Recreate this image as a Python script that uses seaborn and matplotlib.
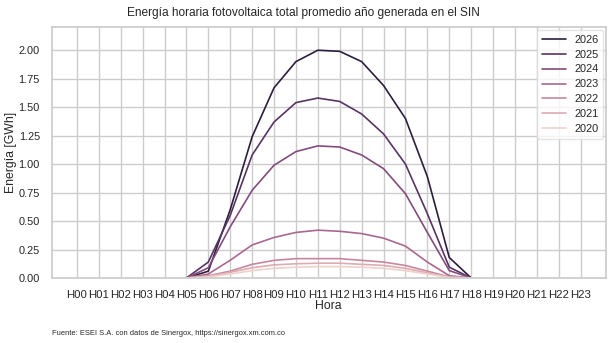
import numpy as np
import pandas as pd
import matplotlib
matplotlib.use("Agg")
import matplotlib.pyplot as plt
import seaborn as sns

horas = [f"H{h:02d}" for h in range(24)]
nan = np.nan
pre = [nan] * 5
post = [nan] * 5

e2026 = pre + [0.0, 0.06, 0.60, 1.24, 1.67, 1.90, 2.00, 1.99, 1.90, 1.69, 1.40, 0.89, 0.18, 0.0] + post
e2025 = pre + [0.0, 0.14, 0.55, 1.08, 1.37, 1.54, 1.58, 1.55, 1.44, 1.265, 1.00, 0.565, 0.095, 0.0] + post
e2024 = pre + [0.0, 0.09, 0.45, 0.77, 0.99, 1.11, 1.16, 1.15, 1.08, 0.96, 0.74, 0.40, 0.065, 0.0] + post
e2023 = pre + [0.0, 0.035, 0.156, 0.29, 0.356, 0.40, 0.42, 0.41, 0.39, 0.35, 0.28, 0.14, 0.02, 0.0] + post
e2022 = pre + [0.0, 0.02, 0.06, 0.12, 0.155, 0.17, 0.17, 0.17, 0.155, 0.14, 0.11, 0.06, 0.01, 0.0] + post
e2021 = pre + [0.0, 0.015, 0.05, 0.09, 0.115, 0.125, 0.13, 0.13, 0.12, 0.11, 0.085, 0.045, 0.008, 0.0] + post
e2020 = pre + [0.0, 0.01, 0.035, 0.065, 0.085, 0.095, 0.10, 0.10, 0.095, 0.085, 0.065, 0.035, 0.005, 0.0] + post

anios = ["2026", "2025", "2024", "2023", "2022", "2021", "2020"]
series = [e2026, e2025, e2024, e2023, e2022, e2021, e2020]

rows = []
for a, s in zip(anios, series):
    for i, (h, v) in enumerate(zip(horas, s)):
        rows.append({"pos": i, "Hora": h, "Año": a, "Energía": v})
df = pd.DataFrame(rows)

sns.set_theme(style="whitegrid")
plt.rcParams["font.family"] = ["Liberation Sans", "DejaVu Sans"]

fig = plt.figure(figsize=(6.12, 3.43), dpi=100)
ax = fig.add_axes([0.0845, 0.1895, 0.9055, 0.7305])

pal = sns.cubehelix_palette(7)[::-1]
sns.lineplot(data=df.dropna(), x="pos", y="Energía", hue="Año", hue_order=anios,
             palette=pal, linewidth=1.2, ax=ax)

ax.set_xticks(range(len(horas)))
ax.set_xticklabels(horas)
ax.set_xlim(-0.05 * (len(horas) - 1), (len(horas) - 1) * 1.05)
ax.set_ylim(0, 2.2)
yt = [0, 0.25, 0.5, 0.75, 1.0, 1.25, 1.5, 1.75, 2.0]
ax.set_yticks(yt)
ax.set_yticklabels([f"{v:.2f}" for v in yt])
ax.tick_params(axis="x", labelsize=8.2, pad=2.5)
ax.tick_params(axis="y", labelsize=7.9, pad=2.5)
ax.set_xlabel("Hora", fontsize=8.8, labelpad=0)
ax.set_ylabel("Energía [GWh]", fontsize=8.8, labelpad=1)

leg = ax.legend(loc="upper right", fontsize=7.9, labelspacing=0.45,
                handlelength=2.2, borderaxespad=0.25, frameon=True)
leg.get_frame().set_edgecolor("#dddddd")

fig.suptitle("Energía horaria fotovoltaica total promedio año generada en el SIN",
             fontsize=8.6, x=0.496, y=0.98)
fig.text(0.085, 0.029, "Fuente: ESEI S.A. con datos de Sinergox, https://sinergox.xm.com.co",
         fontsize=5.4, ha="left", va="center")

fig.savefig("out.png", dpi=100)
